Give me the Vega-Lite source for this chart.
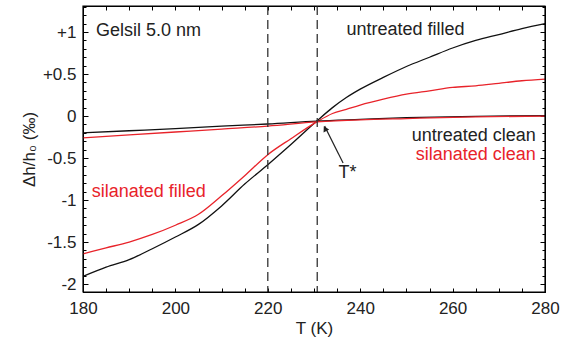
{
  "$schema": "https://vega.github.io/schema/vega-lite/v6.json",
  "width": 462,
  "height": 286,
  "autosize": {"type": "none"},
  "padding": {"left": 83, "top": 6, "right": 32, "bottom": 51},
  "config": {
    "view": {"stroke": "#000", "strokeWidth": 1},
    "axis": {
      "grid": false,
      "domain": true,
      "domainColor": "#000",
      "domainWidth": 1,
      "tickColor": "#000",
      "tickWidth": 1,
      "labelOverlap": false,
      "labelFont": "Liberation Sans",
      "labelFontSize": 17,
      "labelColor": "#222",
      "titleFont": "Liberation Sans",
      "titleFontSize": 17,
      "titleFontWeight": "normal",
      "titleColor": "#222"
    },
    "text": {"font": "Liberation Sans", "fontSize": 18}
  },
  "resolve": {"scale": {"x": "independent", "y": "independent"}, "axis": {"x": "independent", "y": "independent"}},
  "layer": [
    {
      "data": {"values": [
        {"series": "untreated filled", "treatment": "untreated", "T": 180, "y": -1.91},
        {"series": "untreated filled", "treatment": "untreated", "T": 185, "y": -1.80},
        {"series": "untreated filled", "treatment": "untreated", "T": 190, "y": -1.71},
        {"series": "untreated filled", "treatment": "untreated", "T": 195, "y": -1.58},
        {"series": "untreated filled", "treatment": "untreated", "T": 200, "y": -1.44},
        {"series": "untreated filled", "treatment": "untreated", "T": 205, "y": -1.29},
        {"series": "untreated filled", "treatment": "untreated", "T": 210, "y": -1.07},
        {"series": "untreated filled", "treatment": "untreated", "T": 215, "y": -0.81},
        {"series": "untreated filled", "treatment": "untreated", "T": 220, "y": -0.58},
        {"series": "untreated filled", "treatment": "untreated", "T": 225, "y": -0.34},
        {"series": "untreated filled", "treatment": "untreated", "T": 230.6, "y": -0.06},
        {"series": "untreated filled", "treatment": "untreated", "T": 234, "y": 0.10},
        {"series": "untreated filled", "treatment": "untreated", "T": 237, "y": 0.22},
        {"series": "untreated filled", "treatment": "untreated", "T": 240, "y": 0.32},
        {"series": "untreated filled", "treatment": "untreated", "T": 245, "y": 0.46},
        {"series": "untreated filled", "treatment": "untreated", "T": 250, "y": 0.59},
        {"series": "untreated filled", "treatment": "untreated", "T": 255, "y": 0.70},
        {"series": "untreated filled", "treatment": "untreated", "T": 260, "y": 0.81},
        {"series": "untreated filled", "treatment": "untreated", "T": 265, "y": 0.90},
        {"series": "untreated filled", "treatment": "untreated", "T": 270, "y": 0.97},
        {"series": "untreated filled", "treatment": "untreated", "T": 275, "y": 1.04},
        {"series": "untreated filled", "treatment": "untreated", "T": 280, "y": 1.10},
        {"series": "silanated filled", "treatment": "silanated", "T": 180, "y": -1.64},
        {"series": "silanated filled", "treatment": "silanated", "T": 185, "y": -1.57},
        {"series": "silanated filled", "treatment": "silanated", "T": 190, "y": -1.50},
        {"series": "silanated filled", "treatment": "silanated", "T": 195, "y": -1.41},
        {"series": "silanated filled", "treatment": "silanated", "T": 200, "y": -1.30},
        {"series": "silanated filled", "treatment": "silanated", "T": 205, "y": -1.17},
        {"series": "silanated filled", "treatment": "silanated", "T": 210, "y": -0.95},
        {"series": "silanated filled", "treatment": "silanated", "T": 215, "y": -0.71},
        {"series": "silanated filled", "treatment": "silanated", "T": 220, "y": -0.46},
        {"series": "silanated filled", "treatment": "silanated", "T": 225, "y": -0.27},
        {"series": "silanated filled", "treatment": "silanated", "T": 230.6, "y": -0.07},
        {"series": "silanated filled", "treatment": "silanated", "T": 234, "y": 0.03},
        {"series": "silanated filled", "treatment": "silanated", "T": 237, "y": 0.08},
        {"series": "silanated filled", "treatment": "silanated", "T": 240, "y": 0.13},
        {"series": "silanated filled", "treatment": "silanated", "T": 245, "y": 0.20},
        {"series": "silanated filled", "treatment": "silanated", "T": 250, "y": 0.26},
        {"series": "silanated filled", "treatment": "silanated", "T": 255, "y": 0.30},
        {"series": "silanated filled", "treatment": "silanated", "T": 260, "y": 0.34},
        {"series": "silanated filled", "treatment": "silanated", "T": 265, "y": 0.36},
        {"series": "silanated filled", "treatment": "silanated", "T": 270, "y": 0.39},
        {"series": "silanated filled", "treatment": "silanated", "T": 275, "y": 0.42},
        {"series": "silanated filled", "treatment": "silanated", "T": 280, "y": 0.44},
        {"series": "untreated clean", "treatment": "untreated", "T": 180, "y": -0.20},
        {"series": "untreated clean", "treatment": "untreated", "T": 190, "y": -0.175},
        {"series": "untreated clean", "treatment": "untreated", "T": 200, "y": -0.15},
        {"series": "untreated clean", "treatment": "untreated", "T": 210, "y": -0.12},
        {"series": "untreated clean", "treatment": "untreated", "T": 220, "y": -0.095},
        {"series": "untreated clean", "treatment": "untreated", "T": 230.6, "y": -0.06},
        {"series": "untreated clean", "treatment": "untreated", "T": 240, "y": -0.04},
        {"series": "untreated clean", "treatment": "untreated", "T": 250, "y": -0.02},
        {"series": "untreated clean", "treatment": "untreated", "T": 265, "y": -0.003},
        {"series": "untreated clean", "treatment": "untreated", "T": 280, "y": 0.005},
        {"series": "silanated clean", "treatment": "silanated", "T": 180, "y": -0.26},
        {"series": "silanated clean", "treatment": "silanated", "T": 190, "y": -0.225},
        {"series": "silanated clean", "treatment": "silanated", "T": 200, "y": -0.19},
        {"series": "silanated clean", "treatment": "silanated", "T": 210, "y": -0.155},
        {"series": "silanated clean", "treatment": "silanated", "T": 220, "y": -0.12},
        {"series": "silanated clean", "treatment": "silanated", "T": 230.6, "y": -0.07},
        {"series": "silanated clean", "treatment": "silanated", "T": 240, "y": -0.045},
        {"series": "silanated clean", "treatment": "silanated", "T": 250, "y": -0.03},
        {"series": "silanated clean", "treatment": "silanated", "T": 265, "y": -0.01},
        {"series": "silanated clean", "treatment": "silanated", "T": 280, "y": 0.0}
      ]},
      "mark": {"type": "line", "strokeWidth": 1.3, "interpolate": "monotone"},
      "encoding": {
        "x": {"field": "T", "type": "quantitative",
          "scale": {"domain": [180, 280], "nice": false, "zero": false},
          "axis": {
            "orient": "bottom",
            "title": "T (K)",
            "titlePadding": 4,
            "values": [180,185,190,195,200,205,210,215,220,225,230,235,240,245,250,255,260,265,270,275,280],
            "labelExpr": "datum.value % 20 === 0 ? datum.label : ''",
            "tickSize": {"condition": {"test": "datum.value % 20 === 0", "value": -4}, "value": -4},
            "labelPadding": 12,
            "labelFlush": false
          }},
        "y": {"field": "y", "type": "quantitative",
          "scale": {"domain": [-2.095, 1.31], "nice": false, "zero": false},
          "axis": {
            "orient": "left",
            "title": "Δh/h₀ (‰)",
            "titlePadding": 4,
            "values": [-2,-1.9,-1.8,-1.7,-1.6,-1.5,-1.4,-1.3,-1.2,-1.1,-1,-0.9,-0.8,-0.7,-0.6,-0.5,-0.4,-0.3,-0.2,-0.1,0,0.1,0.2,0.3,0.4,0.5,0.6,0.7,0.8,0.9,1,1.1,1.2,1.3],
            "labelExpr": "abs(datum.value*2 - round(datum.value*2)) < 0.001 ? ((datum.value > 0 ? '+' : (datum.value < 0 ? '-' : '')) + format(abs(datum.value), '')) : ''",
            "tickSize": {"condition": {"test": "abs(datum.value*2 - round(datum.value*2)) < 0.001", "value": -5}, "value": -3},
            "labelPadding": 12,
            "labelFlush": false
          }},
        "color": {"field": "treatment", "type": "nominal",
          "scale": {"domain": ["untreated", "silanated"], "range": ["#111111", "#e8232a"]},
          "legend": null},
        "detail": {"field": "series"}
      }
    },
    {
      "data": {"values": [{"T": 220}, {"T": 230.7}]},
      "mark": {"type": "rule", "color": "#333", "strokeWidth": 1.3, "strokeDash": [9, 5]},
      "encoding": {
        "x": {"field": "T", "type": "quantitative",
          "scale": {"domain": [180, 280], "nice": false, "zero": false},
          "axis": {
            "orient": "top", "title": null, "labels": false,
            "values": [180,185,190,195,200,205,210,215,220,225,230,235,240,245,250,255,260,265,270,275,280],
            "tickSize": {"condition": {"test": "datum.value % 20 === 0", "value": -4}, "value": -4}
          }}
      }
    },
    {
      "data": {"values": [{"T": 236.3, "y": -0.56, "T2": 232.3, "y2": -0.12}]},
      "mark": {"type": "rule", "color": "#222", "strokeWidth": 1.2},
      "encoding": {
        "x": {"field": "T", "type": "quantitative", "scale": {"domain": [180, 280], "nice": false, "zero": false}, "axis": null},
        "x2": {"field": "T2"},
        "y": {"field": "y", "type": "quantitative",
          "scale": {"domain": [-2.095, 1.31], "nice": false, "zero": false},
          "axis": {
            "orient": "right", "title": null, "labels": false,
            "values": [-2,-1.9,-1.8,-1.7,-1.6,-1.5,-1.4,-1.3,-1.2,-1.1,-1,-0.9,-0.8,-0.7,-0.6,-0.5,-0.4,-0.3,-0.2,-0.1,0,0.1,0.2,0.3,0.4,0.5,0.6,0.7,0.8,0.9,1,1.1,1.2,1.3],
            "tickSize": {"condition": {"test": "abs(datum.value*2 - round(datum.value*2)) < 0.001", "value": -5}, "value": -3}
          }},
        "y2": {"field": "y2"}
      }
    },
    {
      "data": {"values": [{"T": 232.4, "y": -0.15}]},
      "mark": {"type": "point", "shape": "triangle-up", "filled": true, "color": "#222", "size": 40, "angle": 332, "opacity": 1},
      "encoding": {
        "x": {"field": "T", "type": "quantitative", "scale": {"domain": [180, 280], "nice": false, "zero": false}, "axis": null},
        "y": {"field": "y", "type": "quantitative", "scale": {"domain": [-2.095, 1.31], "nice": false, "zero": false}, "axis": null}
      }
    },
    {
      "data": {"values": [
        {"label": "Gelsil 5.0 nm", "T": 182.8, "y": 1.015},
        {"label": "T*", "T": 235.3, "y": -0.68}
      ]},
      "mark": {"type": "text", "align": "left", "baseline": "middle", "color": "#222"},
      "encoding": {
        "x": {"field": "T", "type": "quantitative", "scale": {"domain": [180, 280], "nice": false, "zero": false}, "axis": null},
        "y": {"field": "y", "type": "quantitative", "scale": {"domain": [-2.095, 1.31], "nice": false, "zero": false}, "axis": null},
        "text": {"field": "label"}
      }
    },
    {
      "data": {"values": [{"label": "untreated filled", "T": 249.8, "y": 1.03}]},
      "mark": {"type": "text", "align": "center", "baseline": "middle", "color": "#222"},
      "encoding": {
        "x": {"field": "T", "type": "quantitative", "scale": {"domain": [180, 280], "nice": false, "zero": false}, "axis": null},
        "y": {"field": "y", "type": "quantitative", "scale": {"domain": [-2.095, 1.31], "nice": false, "zero": false}, "axis": null},
        "text": {"field": "label"}
      }
    },
    {
      "data": {"values": [{"label": "untreated clean", "T": 278.0, "y": -0.238}]},
      "mark": {"type": "text", "align": "right", "baseline": "middle", "color": "#222"},
      "encoding": {
        "x": {"field": "T", "type": "quantitative", "scale": {"domain": [180, 280], "nice": false, "zero": false}, "axis": null},
        "y": {"field": "y", "type": "quantitative", "scale": {"domain": [-2.095, 1.31], "nice": false, "zero": false}, "axis": null},
        "text": {"field": "label"}
      }
    },
    {
      "data": {"values": [{"label": "silanated clean", "T": 278.0, "y": -0.464}]},
      "mark": {"type": "text", "align": "right", "baseline": "middle", "color": "#e8232a"},
      "encoding": {
        "x": {"field": "T", "type": "quantitative", "scale": {"domain": [180, 280], "nice": false, "zero": false}, "axis": null},
        "y": {"field": "y", "type": "quantitative", "scale": {"domain": [-2.095, 1.31], "nice": false, "zero": false}, "axis": null},
        "text": {"field": "label"}
      }
    },
    {
      "data": {"values": [{"label": "silanated filled", "T": 181.9, "y": -0.90}]},
      "mark": {"type": "text", "align": "left", "baseline": "middle", "color": "#e8232a"},
      "encoding": {
        "x": {"field": "T", "type": "quantitative", "scale": {"domain": [180, 280], "nice": false, "zero": false}, "axis": null},
        "y": {"field": "y", "type": "quantitative", "scale": {"domain": [-2.095, 1.31], "nice": false, "zero": false}, "axis": null},
        "text": {"field": "label"}
      }
    },
    {
      "data": {"values": [{"frame": "plot"}]},
      "mark": {"type": "rect", "filled": false, "stroke": "#000", "strokeWidth": 1.2},
      "encoding": {
        "x": {"datum": 180, "type": "quantitative", "scale": {"domain": [180, 280], "nice": false, "zero": false}, "axis": null},
        "x2": {"datum": 280},
        "y": {"datum": -2.095, "type": "quantitative", "scale": {"domain": [-2.095, 1.31], "nice": false, "zero": false}, "axis": null},
        "y2": {"datum": 1.31}
      }
    }
  ]
}
